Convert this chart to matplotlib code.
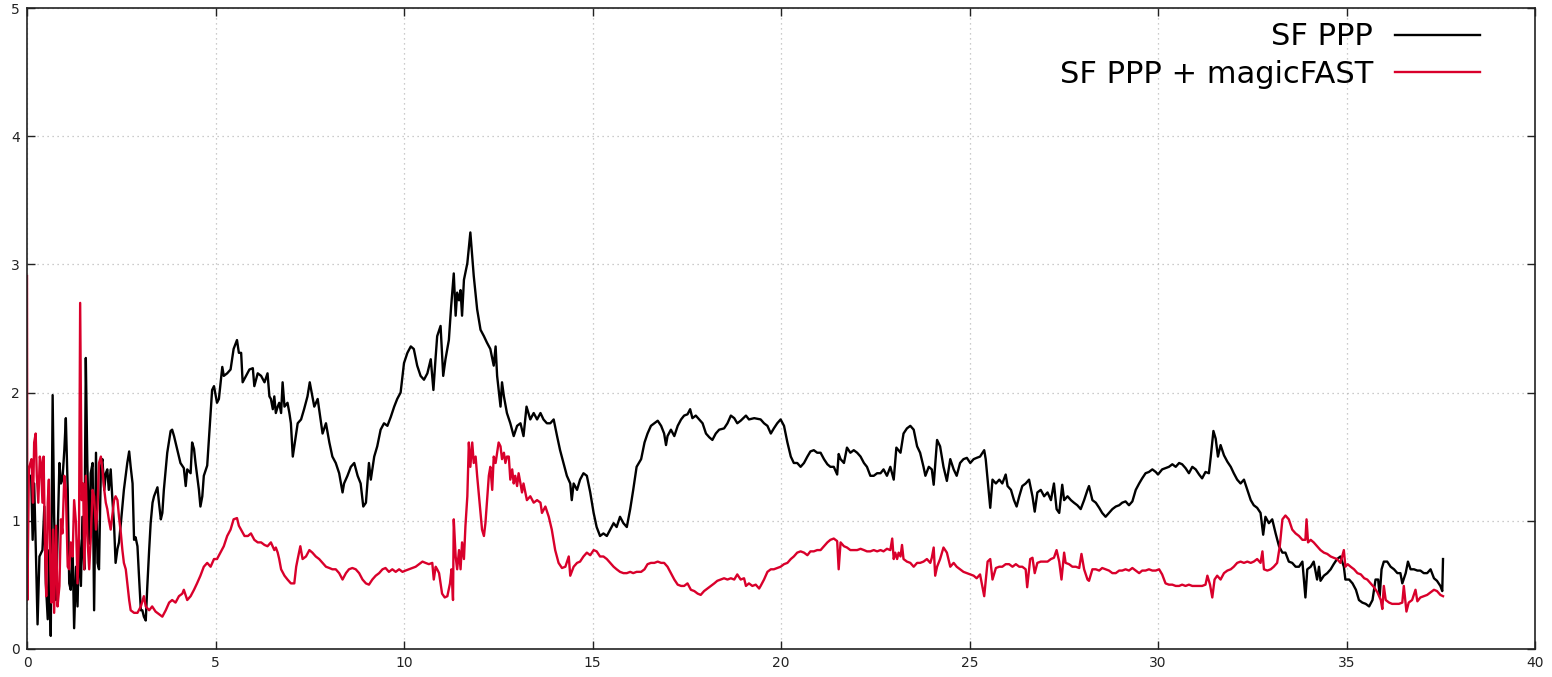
import matplotlib
matplotlib.use("Agg")
import matplotlib.pyplot as plt

# ---- data ----
ppp_x = [0.11,0.15,0.19,0.24,0.28,0.33,0.41,0.46,0.50,0.55,0.59,0.63,0.68,0.72,0.77,0.81,0.86,0.90,0.94,0.99,1.03,1.08,1.12,1.16,1.21,1.25,1.30,1.34,1.38,1.43,1.47,1.52,1.56,1.60,1.65,1.69,1.74,1.78,1.83,1.87,1.91,1.96,2.00,2.05,2.09,2.13,2.17,2.22,2.26,2.31,2.35,2.40,2.44,2.49,2.57,2.66,2.71,2.75,2.80,2.84,2.88,2.93,2.97,3.02,3.06,3.10,3.15,3.19,3.24,3.28,3.33,3.37,3.46,3.50,3.55,3.59,3.63,3.72,3.81,3.85,3.90,3.99,4.07,4.16,4.21,4.25,4.34,4.38,4.43,4.47,4.56,4.60,4.65,4.69,4.78,4.82,4.91,4.96,5.04,5.09,5.18,5.22,5.31,5.40,5.48,5.57,5.62,
         5.68,5.72,5.81,5.90,5.99,6.03,6.12,6.21,6.30,6.38,6.43,6.47,6.52,6.56,6.60,6.65,6.69,6.74,6.78,6.83,6.91,6.96,7.00,7.05,7.09,7.18,7.27,7.35,7.44,7.50,7.57,7.62,7.71,7.80,7.84,7.93,8.02,8.10,8.19,8.28,8.37,8.41,8.50,8.59,8.68,8.77,8.85,8.92,8.99,9.07,9.12,9.21,9.29,9.38,9.47,9.56,9.65,9.74,9.82,9.91,10.00,10.09,10.18,10.26,10.35,10.44,10.53,10.62,10.71,10.78,10.84,10.88,10.97,11.04,11.10,11.19,11.25,11.32,11.37,11.41,11.46,11.50,11.54,11.59,11.68,11.76,11.81,11.85,11.94,12.03,12.12,12.20,12.29,12.38,12.43,12.47,12.56,12.60,12.65,12.73,12.82,12.91,13.00,13.09,13.17,13.25,13.35,13.44,13.53,13.62,13.70,13.79,13.88,13.97,14.06,14.14,14.23,14.32,14.41,14.45,14.50,14.59,14.67,14.76,14.85,14.94,15.03,15.11,15.20,15.29,15.38,15.47,15.56,15.64,15.73,15.82,15.91,16.00,16.08,16.17,
         16.29,16.38,16.46,16.55,16.64,16.73,16.82,16.90,16.95,16.99,17.08,17.17,17.26,17.35,17.43,17.52,17.59,17.65,17.74,17.83,17.92,18.01,18.10,18.18,18.27,18.36,18.49,18.58,18.67,18.76,18.84,18.93,19.07,19.15,19.29,19.46,19.55,19.64,19.73,19.81,19.90,19.99,20.08,20.17,20.26,20.34,20.43,20.52,20.61,20.70,20.78,20.87,20.96,21.05,21.14,21.23,21.31,21.40,21.49,21.53,21.58,21.67,21.75,21.84,21.93,22.02,22.11,22.20,22.28,22.37,22.46,22.55,22.64,22.72,22.81,22.90,22.99,23.06,23.17,23.25,23.34,23.43,23.52,23.61,23.69,23.78,23.83,23.92,24.00,24.05,24.14,24.22,24.31,24.40,24.49,24.58,24.66,24.75,24.84,24.93,25.02,25.11,25.19,25.28,
         25.39,25.43,25.48,25.55,25.61,25.70,25.79,25.87,25.96,26.01,26.10,26.18,26.25,26.32,26.40,26.49,26.58,26.67,26.73,26.80,26.89,26.98,27.07,27.16,27.24,27.31,27.38,27.46,27.51,27.60,27.69,27.77,27.86,27.95,28.04,28.13,28.17,28.26,28.35,28.44,28.52,28.61,28.70,28.79,28.88,28.97,29.05,29.14,29.23,29.32,29.41,29.50,29.58,29.67,29.76,29.85,29.94,30.00,30.11,30.20,30.29,30.38,30.47,30.56,30.64,30.73,30.82,30.91,31.00,31.09,31.17,31.26,31.35,31.40,31.47,31.53,31.59,31.66,31.75,31.84,31.93,32.01,32.10,32.19,32.28,32.37,32.46,32.54,32.63,32.72,32.79,32.85,32.94,33.03,33.12,33.21,33.30,33.38,33.47,33.56,33.65,33.74,33.83,33.91,33.96,34.05,34.13,34.22,34.27,34.31,34.40,34.49,34.58,34.66,34.75,34.84,34.93,34.97,
         35.07,35.16,35.25,35.33,35.42,35.51,35.60,35.69,35.77,35.84,35.88,35.93,35.99,36.08,36.17,36.26,36.35,36.43,36.48,36.57,36.63,36.70,36.79,36.88,36.96,37.05,37.14,37.23,37.32,37.40,37.49,37.54,37.56]
ppp_y = [1.35,0.85,1.29,0.70,0.19,0.72,0.77,1.11,0.51,0.23,0.77,0.10,1.98,1.03,0.38,0.85,1.45,1.29,1.32,1.55,1.80,1.24,0.51,0.46,0.77,0.16,0.64,0.33,0.85,0.49,1.03,0.62,2.27,1.45,0.82,1.37,1.45,0.30,1.53,0.67,0.62,1.42,1.48,1.24,1.37,1.40,1.24,1.40,1.19,0.96,0.67,0.78,0.83,0.98,1.24,1.45,1.54,1.42,1.29,0.85,0.87,0.80,0.57,0.30,0.30,0.25,0.22,0.48,0.77,0.98,1.14,1.19,1.26,1.14,1.01,1.06,1.24,1.53,1.70,1.71,1.66,1.55,1.45,1.41,1.27,1.40,1.37,1.61,1.56,1.45,1.24,1.11,1.19,1.35,1.43,1.61,2.02,2.05,1.92,1.95,2.20,2.13,2.15,2.18,2.34,2.41,2.31,
         2.31,2.08,2.13,2.18,2.19,2.05,2.15,2.13,2.08,2.15,1.97,1.95,1.87,1.97,1.84,1.89,1.92,1.84,2.08,1.89,1.92,1.84,1.76,1.50,1.58,1.76,1.79,1.87,1.97,2.08,1.97,1.89,1.95,1.76,1.68,1.76,1.61,1.50,1.45,1.37,1.22,1.29,1.35,1.42,1.45,1.35,1.29,1.11,1.14,1.45,1.32,1.50,1.58,1.71,1.76,1.74,1.81,1.89,1.95,2.00,2.23,2.31,2.36,2.34,2.21,2.13,2.10,2.15,2.26,2.02,2.28,2.44,2.52,2.13,2.26,2.41,2.67,2.93,2.60,2.78,2.72,2.80,2.60,2.88,3.01,3.25,3.06,2.91,2.65,2.49,2.44,2.39,2.34,2.21,2.36,2.13,1.89,2.08,1.97,1.84,1.76,1.66,1.74,1.76,1.66,1.89,1.79,1.84,1.79,1.84,1.79,1.76,1.76,1.79,1.66,1.55,1.45,1.35,1.29,1.16,1.29,1.24,1.32,1.37,1.35,1.22,1.06,0.95,0.88,0.90,0.88,0.93,0.98,0.95,1.03,0.98,0.95,1.09,1.24,1.42,
         1.48,1.61,1.68,1.74,1.76,1.78,1.74,1.68,1.59,1.66,1.71,1.66,1.74,1.79,1.82,1.83,1.87,1.80,1.82,1.79,1.76,1.68,1.65,1.63,1.68,1.71,1.72,1.76,1.82,1.80,1.76,1.78,1.82,1.79,1.80,1.79,1.76,1.74,1.68,1.72,1.76,1.79,1.74,1.61,1.50,1.45,1.45,1.42,1.45,1.50,1.54,1.55,1.53,1.53,1.48,1.44,1.42,1.42,1.36,1.52,1.48,1.45,1.57,1.53,1.55,1.53,1.50,1.45,1.42,1.35,1.35,1.37,1.37,1.40,1.35,1.42,1.32,1.57,1.53,1.68,1.72,1.74,1.71,1.58,1.53,1.42,1.35,1.42,1.40,1.28,1.63,1.58,1.42,1.31,1.48,1.40,1.35,1.45,1.48,1.49,1.45,1.48,1.49,1.50,
         1.55,1.48,1.32,1.10,1.32,1.29,1.32,1.29,1.36,1.27,1.24,1.16,1.11,1.19,1.27,1.29,1.32,1.19,1.07,1.22,1.24,1.19,1.22,1.16,1.29,1.09,1.06,1.28,1.16,1.19,1.16,1.14,1.12,1.09,1.16,1.24,1.27,1.16,1.14,1.10,1.06,1.03,1.06,1.09,1.11,1.12,1.14,1.15,1.12,1.15,1.24,1.29,1.33,1.37,1.38,1.40,1.38,1.36,1.40,1.41,1.42,1.44,1.42,1.45,1.44,1.41,1.37,1.42,1.40,1.36,1.33,1.38,1.37,1.50,1.70,1.64,1.50,1.59,1.51,1.46,1.42,1.37,1.32,1.29,1.32,1.24,1.16,1.12,1.10,1.06,0.89,1.03,0.98,1.01,0.90,0.80,0.75,0.75,0.68,0.67,0.64,0.64,0.68,0.40,0.62,0.64,0.68,0.54,0.64,0.53,0.57,0.59,0.62,0.66,0.70,0.72,0.64,0.54,
         0.54,0.51,0.46,0.38,0.36,0.35,0.33,0.38,0.54,0.54,0.41,0.62,0.68,0.68,0.64,0.62,0.59,0.59,0.51,0.59,0.68,0.62,0.62,0.61,0.61,0.59,0.59,0.62,0.55,0.53,0.49,0.45,0.70]

fast_x = [0.00,0.01,0.05,0.09,0.12,0.16,0.19,0.23,0.26,0.30,0.34,0.37,0.41,0.44,0.48,0.51,0.55,0.58,0.62,0.65,0.69,0.72,0.77,0.81,0.86,0.90,0.94,0.99,1.03,1.08,1.12,1.16,1.21,1.25,1.30,1.34,1.38,1.41,1.45,1.49,1.52,1.56,1.60,1.65,1.69,1.74,1.78,1.83,1.87,1.91,1.96,2.00,2.05,2.09,2.13,2.17,2.22,2.26,2.31,2.35,2.40,2.44,2.49,2.53,2.57,2.62,2.66,2.71,2.75,2.84,2.93,3.02,3.10,3.15,3.24,3.32,3.41,3.50,3.59,3.68,3.77,3.85,3.94,4.03,4.12,4.16,4.25,4.34,4.43,4.51,4.60,4.69,4.78,4.87,4.96,5.04,5.13,5.22,5.31,5.40,5.48,5.57,5.62,
          5.77,5.86,5.94,6.03,6.12,6.21,6.30,6.38,6.47,6.56,6.60,6.65,6.69,6.74,6.83,6.91,7.00,7.09,7.14,7.18,7.25,7.31,7.40,7.49,7.57,7.66,7.75,7.84,7.93,8.02,8.10,8.19,8.28,8.37,8.46,8.54,8.63,8.72,8.81,8.90,8.99,9.07,9.16,9.25,9.34,9.43,9.51,9.60,9.69,9.78,9.87,9.96,10.04,10.13,10.22,10.31,10.40,10.49,10.57,10.66,10.75,10.79,10.84,10.88,10.93,10.97,11.01,11.08,11.15,11.22,11.26,11.30,11.32,11.37,11.41,11.46,11.50,11.54,11.59,11.63,11.68,11.72,11.76,11.81,11.85,11.90,11.94,11.98,12.03,12.07,12.12,12.16,12.20,12.25,12.29,12.34,12.38,12.43,12.47,12.51,12.56,12.60,12.65,12.69,12.73,12.78,12.82,12.87,12.91,12.95,13.00,13.04,13.09,13.13,13.17,13.26,13.35,13.44,13.53,13.62,13.66,13.75,13.84,13.92,14.01,14.10,14.19,14.28,14.37,14.41,14.50,14.59,14.67,14.76,14.85,14.94,15.03,15.11,15.20,15.29,15.38,15.47,15.56,15.64,15.73,15.82,15.91,16.00,16.08,16.17,
          16.29,16.38,16.46,16.55,16.64,16.73,16.82,16.90,16.99,17.08,17.17,17.26,17.35,17.43,17.52,17.61,17.70,17.79,17.87,17.96,18.05,18.14,18.23,18.31,18.40,18.49,18.58,18.67,18.76,18.84,18.93,19.02,19.07,19.15,19.24,19.33,19.42,19.46,19.55,19.64,19.73,19.81,19.90,19.99,20.08,20.17,20.26,20.34,20.43,20.52,20.61,20.70,20.78,20.87,20.96,21.05,21.14,21.23,21.31,21.40,21.49,21.53,21.58,21.67,21.75,21.84,21.93,22.02,22.11,22.20,22.28,22.37,22.46,22.55,22.64,22.72,22.81,22.90,22.95,22.99,23.03,23.08,23.12,23.17,23.21,23.25,23.34,23.43,23.52,23.61,23.69,23.78,23.87,23.96,24.00,24.05,24.09,24.14,24.22,24.31,24.40,24.49,24.58,24.66,24.75,24.84,24.93,25.02,25.11,25.19,25.28,
          25.39,25.48,25.55,25.61,25.70,25.79,25.87,25.96,26.05,26.14,26.23,26.32,26.40,26.49,26.53,26.61,26.67,26.73,26.80,26.89,26.98,27.07,27.16,27.24,27.31,27.38,27.44,27.51,27.55,27.64,27.73,27.82,27.91,27.97,28.04,28.13,28.17,28.26,28.35,28.44,28.52,28.61,28.70,28.79,28.88,28.97,29.05,29.14,29.23,29.32,29.41,29.50,29.58,29.67,29.76,29.85,29.94,30.03,30.11,30.20,30.29,30.38,30.47,30.56,30.64,30.73,30.82,30.91,31.00,31.09,31.17,31.26,31.31,31.38,31.44,31.50,31.57,31.66,31.75,31.84,31.93,32.01,32.10,32.19,32.28,32.37,32.46,32.54,32.63,32.72,32.77,32.81,32.90,32.99,33.07,33.16,33.23,33.30,33.38,33.47,33.56,33.65,33.74,33.83,33.91,33.94,33.98,34.05,34.13,34.22,34.31,34.40,34.49,34.58,34.66,34.75,34.84,34.93,34.97,
          35.03,35.11,35.20,35.29,35.38,35.47,35.55,35.64,35.73,35.82,35.91,35.95,35.99,36.04,36.13,36.21,36.30,36.39,36.48,36.52,36.59,36.65,36.74,36.83,36.88,36.96,37.05,37.14,37.23,37.32,37.40,37.49,37.56]
fast_y = [2.91,0.38,1.40,1.45,1.48,1.14,1.61,1.68,1.35,1.14,1.50,1.45,1.14,1.50,0.77,0.41,1.14,1.32,0.62,0.36,0.93,0.28,0.96,0.33,0.49,1.01,0.90,1.35,1.24,0.64,0.62,0.83,0.72,1.16,0.98,0.51,0.90,2.70,1.16,1.29,0.62,1.35,0.88,0.62,0.85,1.24,1.19,0.93,1.09,1.45,1.50,1.40,1.24,1.14,1.09,1.01,0.93,1.03,1.16,1.19,1.16,1.03,0.90,0.77,0.67,0.62,0.51,0.38,0.30,0.28,0.28,0.33,0.41,0.33,0.30,0.33,0.29,0.27,0.25,0.30,0.36,0.38,0.36,0.41,0.43,0.46,0.38,0.41,0.46,0.51,0.57,0.64,0.67,0.64,0.70,0.70,0.75,0.80,0.88,0.93,1.01,1.02,0.96,
          0.88,0.88,0.90,0.85,0.83,0.83,0.81,0.80,0.83,0.77,0.79,0.75,0.70,0.62,0.57,0.54,0.51,0.51,0.64,0.70,0.80,0.70,0.72,0.77,0.75,0.72,0.70,0.67,0.64,0.63,0.62,0.62,0.59,0.54,0.59,0.62,0.63,0.62,0.59,0.54,0.51,0.50,0.54,0.57,0.59,0.62,0.63,0.60,0.62,0.60,0.62,0.60,0.61,0.62,0.63,0.64,0.66,0.68,0.67,0.66,0.67,0.54,0.64,0.62,0.59,0.51,0.43,0.40,0.41,0.51,0.62,0.38,1.01,0.72,0.62,0.77,0.62,0.83,0.70,0.96,1.19,1.61,1.42,1.61,1.45,1.50,1.35,1.22,1.06,0.93,0.88,0.98,1.14,1.35,1.42,1.24,1.50,1.45,1.53,1.61,1.58,1.48,1.53,1.45,1.50,1.50,1.32,1.40,1.29,1.35,1.27,1.37,1.29,1.22,1.29,1.16,1.19,1.14,1.16,1.14,1.06,1.11,1.03,0.93,0.77,0.67,0.63,0.64,0.72,0.57,0.64,0.67,0.68,0.72,0.75,0.73,0.77,0.76,0.72,0.72,0.70,0.67,0.64,0.62,0.60,0.59,0.59,0.60,0.59,0.60,
          0.60,0.62,0.66,0.67,0.67,0.68,0.67,0.67,0.64,0.59,0.54,0.50,0.49,0.49,0.51,0.46,0.45,0.43,0.42,0.45,0.47,0.49,0.51,0.53,0.54,0.55,0.54,0.55,0.54,0.58,0.54,0.55,0.49,0.51,0.49,0.50,0.47,0.49,0.54,0.60,0.62,0.62,0.63,0.64,0.66,0.67,0.70,0.72,0.75,0.76,0.75,0.73,0.76,0.76,0.77,0.77,0.80,0.83,0.85,0.86,0.84,0.62,0.83,0.80,0.79,0.77,0.77,0.77,0.78,0.77,0.76,0.76,0.77,0.76,0.77,0.76,0.78,0.77,0.86,0.70,0.75,0.70,0.75,0.72,0.81,0.70,0.68,0.67,0.64,0.67,0.67,0.68,0.70,0.67,0.71,0.79,0.57,0.64,0.70,0.79,0.75,0.64,0.67,0.64,0.62,0.60,0.59,0.58,0.57,0.55,0.58,
          0.41,0.68,0.70,0.54,0.63,0.64,0.64,0.66,0.66,0.64,0.66,0.64,0.64,0.62,0.48,0.70,0.71,0.59,0.67,0.68,0.68,0.68,0.70,0.71,0.77,0.68,0.54,0.75,0.67,0.66,0.64,0.64,0.63,0.74,0.62,0.54,0.53,0.62,0.62,0.61,0.63,0.62,0.61,0.59,0.59,0.61,0.61,0.62,0.61,0.63,0.61,0.59,0.61,0.61,0.62,0.61,0.61,0.62,0.58,0.51,0.50,0.50,0.49,0.49,0.50,0.49,0.50,0.49,0.49,0.49,0.49,0.50,0.57,0.50,0.40,0.54,0.57,0.54,0.59,0.61,0.62,0.64,0.67,0.68,0.67,0.68,0.67,0.68,0.70,0.67,0.76,0.62,0.61,0.62,0.64,0.67,0.80,1.01,1.04,1.01,0.93,0.90,0.88,0.85,0.85,1.01,0.83,0.85,0.83,0.80,0.77,0.75,0.74,0.72,0.71,0.70,0.67,0.77,0.64,
          0.66,0.64,0.62,0.59,0.58,0.55,0.54,0.51,0.48,0.44,0.38,0.31,0.49,0.38,0.36,0.35,0.35,0.35,0.36,0.49,0.29,0.36,0.38,0.46,0.37,0.40,0.41,0.42,0.44,0.46,0.45,0.42,0.41]

labels = ["SF PPP", "SF PPP + magicFAST"]
colors = ["#000000", "#d9002b"]
x_ticks = [0, 5, 10, 15, 20, 25, 30, 35, 40]
y_ticks = [0, 1, 2, 3, 4, 5]

W, H = 1552, 677
fig = plt.figure(figsize=(W / 100, H / 100), dpi=100)
ax = fig.add_axes([27 / W, 28.3 / H, 1508 / W, 640.4 / H])

ax.plot(ppp_x, ppp_y, color=colors[0], lw=1.7, label=labels[0])
ax.plot(fast_x, fast_y, color=colors[1], lw=1.7, label=labels[1])

ax.set_xlim(0, 40)
ax.set_ylim(0, 5)
ax.set_xticks(x_ticks)
ax.set_yticks(y_ticks)
ax.tick_params(direction="in", length=6, width=1, top=True, right=True,
               labelsize=10, pad=5, colors="#222222")
ax.grid(True, linestyle=(0, (1, 3)), color="#bbbbbb", linewidth=0.9)
for s in ax.spines.values():
    s.set_linewidth(1.2)
    s.set_color("#222222")

ax.legend(loc="upper right", bbox_to_anchor=(0.9635, 0.978), frameon=False,
          markerfirst=False, fontsize=22, handlelength=2.78, handletextpad=0.72,
          labelspacing=0.27, borderaxespad=0, borderpad=0)

fig.savefig("out.png", dpi=100)
